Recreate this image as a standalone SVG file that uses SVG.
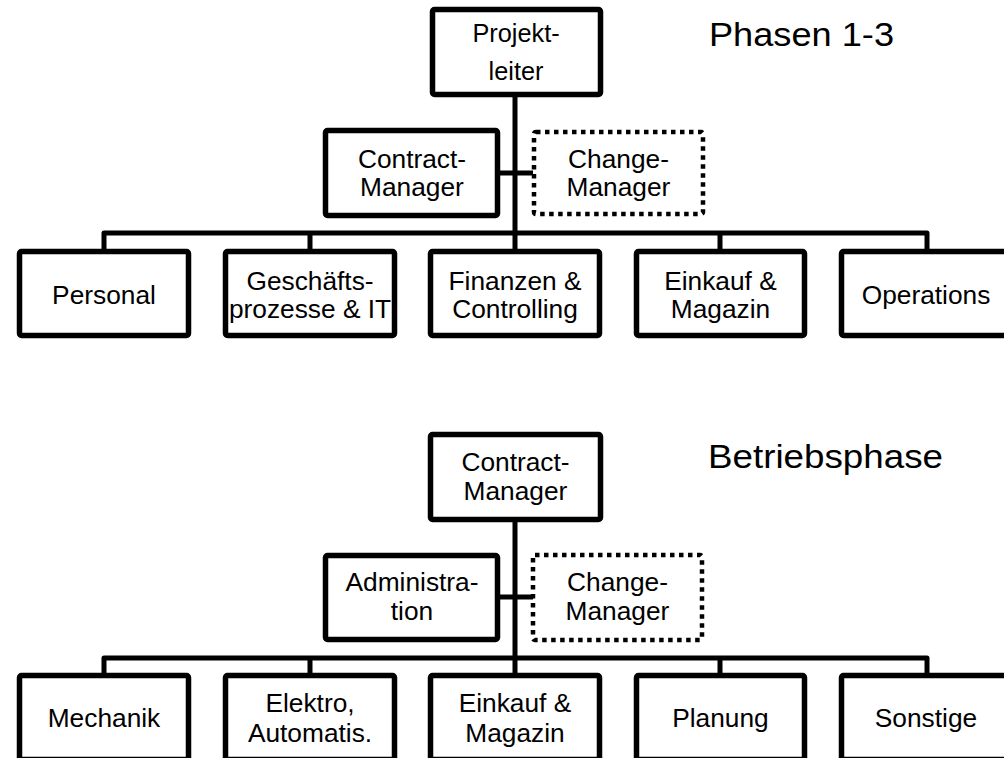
<svg xmlns="http://www.w3.org/2000/svg" width="1004" height="758" viewBox="0 0 1004 758">
<style>
.box{fill:#fff;stroke:#000;stroke-width:5.5}
.dot{fill:#fff;stroke:#000;stroke-width:4.5;stroke-dasharray:4.5 4.5}
.ln{fill:none;stroke:#000;stroke-width:5;stroke-linejoin:round}
text{font-family:"Liberation Sans",Arial,sans-serif;font-size:26.3px;fill:#000;text-anchor:middle}
.small{font-size:25.3px}
.title{font-size:34px;text-anchor:start}
</style>
<rect width="1004" height="758" fill="#fff"/>
<g id="connectors">
<path class="ln" d="M515,96 V234"/>
<path class="ln" d="M499,173 H533"/>
<path class="ln" d="M104,251 V233 H927 V251 M310,233 V251 M515,233 V251 M720,233 V251"/>
<path class="ln" d="M515,521 V659"/>
<path class="ln" d="M499,597 H533"/>
<path class="ln" d="M104,675 V658 H927 V675 M310,658 V675 M515,658 V675 M720,658 V675"/>
</g>
<text id="title1" class="title" x="709" y="46" textLength="185" lengthAdjust="spacingAndGlyphs">Phasen 1-3</text>
<text id="title2" class="title" x="708" y="468" textLength="235" lengthAdjust="spacingAndGlyphs">Betriebsphase</text>
<g id="projektleiter"><rect class="box" x="432.5" y="9.5" width="168" height="85" rx="2"/><text class="small" x="516" y="42">Projekt-</text><text class="small" x="516" y="80">leiter</text></g>
<g id="contract1"><rect class="box" x="325.5" y="130.5" width="172" height="85" rx="2"/><text x="412" y="168">Contract-</text><text x="412" y="196">Manager</text></g>
<g id="change1"><rect class="dot" x="534" y="132" width="169" height="82" rx="2"/><text x="618.5" y="168">Change-</text><text x="618.5" y="196">Manager</text></g>
<g id="personal"><rect class="box" x="19.5" y="251.5" width="169" height="84" rx="2"/><text x="104" y="304">Personal</text></g>
<g id="geschaeft"><rect class="box" x="225.5" y="251.5" width="169" height="84" rx="2"/><text x="310" y="290">Geschäfts-</text><text x="310" y="318">prozesse &amp; IT</text></g>
<g id="finanzen"><rect class="box" x="430.5" y="251.5" width="169" height="84" rx="2"/><text x="515" y="290">Finanzen &amp;</text><text x="515" y="318">Controlling</text></g>
<g id="einkauf1"><rect class="box" x="636.5" y="251.5" width="168" height="84" rx="2"/><text x="720.5" y="290">Einkauf &amp;</text><text x="720.5" y="318">Magazin</text></g>
<g id="operations"><rect class="box" x="841.5" y="251.5" width="169" height="84" rx="2"/><text x="926" y="304">Operations</text></g>
<g id="contract2"><rect class="box" x="430.5" y="434.5" width="170" height="85" rx="2"/><text x="515.5" y="471">Contract-</text><text x="515.5" y="500">Manager</text></g>
<g id="admin"><rect class="box" x="325.5" y="555.5" width="172" height="84" rx="2"/><text x="412" y="591">Administra-</text><text x="412" y="620">tion</text></g>
<g id="change2"><rect class="dot" x="533" y="555" width="169" height="85" rx="2"/><text x="617.5" y="591">Change-</text><text x="617.5" y="620">Manager</text></g>
<g id="mechanik"><rect class="box" x="19.5" y="675.5" width="169" height="84" rx="2"/><text x="104" y="727">Mechanik</text></g>
<g id="elektro"><rect class="box" x="225.5" y="675.5" width="169" height="84" rx="2"/><text x="310" y="712">Elektro,</text><text x="310" y="742">Automatis.</text></g>
<g id="einkauf2"><rect class="box" x="430.5" y="675.5" width="169" height="84" rx="2"/><text x="515" y="712">Einkauf &amp;</text><text x="515" y="742">Magazin</text></g>
<g id="planung"><rect class="box" x="636.5" y="675.5" width="168" height="84" rx="2"/><text x="720.5" y="727">Planung</text></g>
<g id="sonstige"><rect class="box" x="841.5" y="675.5" width="169" height="84" rx="2"/><text x="926" y="727">Sonstige</text></g>
</svg>
